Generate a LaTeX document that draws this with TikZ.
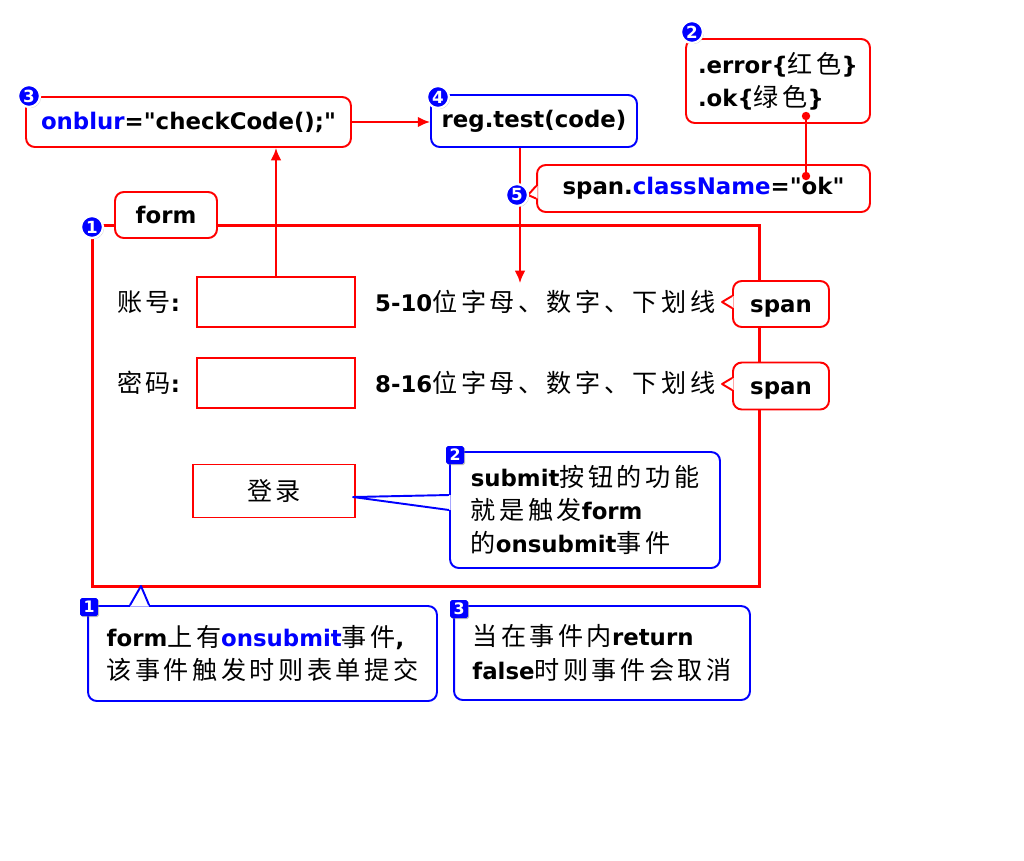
\documentclass[tikz,border=0pt]{standalone}
\usepackage{fontspec}
\setmainfont{DejaVu Sans}
\newfontfamily\cjkfont[Scale=1.1,LetterSpace=14]{Noto Sans CJK SC}
\usepackage{tikz}
\usetikzlibrary{arrows.meta}
\usetikzlibrary{positioning}
\usetikzlibrary{shadows}
\usetikzlibrary{calc}
\definecolor{boxred}{RGB}{255,0,0}
\definecolor{boxblue}{RGB}{0,0,255}
\definecolor{textblue}{RGB}{0,0,255}
\newcommand{\zh}[1]{{\cjkfont\mdseries #1}}

\begin{document}
\begin{tikzpicture}[x=0.02cm, y=-0.02cm,
    every node/.style={font=\fontsize{13}{19}\selectfont\bfseries},
    redbox/.style={draw=boxred, line width=1.1pt, rounded corners=5pt, fill=white, inner sep=4pt},
    bluebox/.style={draw=boxblue, line width=1.1pt, rounded corners=5pt, fill=white, inner sep=4pt},
    field/.style={draw=boxred, line width=1.1pt, fill=white, minimum width=3.16cm, minimum height=1cm},
    badge/.style={circle, fill=boxblue, draw=white, line width=1.3pt, text=white, inner sep=0pt,
        minimum size=0.44cm, font=\fontsize{9.5}{9.5}\selectfont\bfseries,
        drop shadow={shadow xshift=0.6pt, shadow yshift=-0.6pt, opacity=0.5}},
    sqbadge/.style={fill=boxblue, text=white, inner sep=0pt, minimum size=0.36cm, rounded corners=1pt,
        font=\fontsize{9}{9}\selectfont\bfseries,
        drop shadow={shadow xshift=0.6pt, shadow yshift=-0.6pt, opacity=0.5}},
    link/.style={boxred, line width=1.1pt, -{Latex[length=7pt,width=6pt]}}]
    \useasboundingbox (0,0) rectangle (1024,860);

    % the form and its fields
    \node[draw=boxred, line width=1.7pt, minimum width=13.36cm, minimum height=7.24cm] (formarea) at (426,406) {};
    \node[redbox, minimum width=2.04cm, minimum height=0.92cm] (formtag) at (166,215) {form};

    \node[anchor=west] (userlbl) at (111,302) {\zh{账号}:};
    \node[anchor=west] (pwdlbl) at (111,383) {\zh{密码}:};
    \node[field] (user) at (276,302) {};
    \node[field] (pwd) at (276,383) {};
    \node[field, minimum width=3.24cm, minimum height=1.06cm] (login) at (274,491) {\zh{登录}};
    \node[anchor=west] (userhint) at (369,302) {5-10\zh{位字母、数字、下划线}};
    \node[anchor=west] (pwdhint) at (369,383) {8-16\zh{位字母、数字、下划线}};

    \node[redbox, minimum width=1.92cm, minimum height=0.92cm, text height=0.42cm, text depth=0.08cm] (spanA) at (781,304) {span};
    \node[redbox, minimum width=1.92cm, minimum height=0.94cm, text height=0.42cm, text depth=0.08cm] (spanB) at (781,386) {span};
    \foreach \s in {spanA,spanB}{
    \fill[white] ($(\s.west)+(1.5,-8)$) -- ($(\s.west)+(-10,-2)$) -- ($(\s.west)+(1.5,4)$) -- cycle;
    \draw[boxred, line width=1.1pt, line join=round] ($(\s.west)+(0,-8)$) -- ($(\s.west)+(-10,-2)$) -- ($(\s.west)+(0,4)$);
    }

    % script side
    \node[redbox, minimum width=6.5cm, minimum height=1cm] (onblur) at (188.5,122) {\textcolor{textblue}{onblur}=\textquotedbl checkCode();\textquotedbl};
    \node[bluebox, minimum width=4.12cm, minimum height=1.04cm] (regtest) at (534,121) {reg.test(code)};
    \node[redbox, minimum width=3.68cm, minimum height=1.68cm, align=left] (cssrule) at (778,81) {.error\{\zh{红色}\}\\.ok\{\zh{绿色}\}};
    \node[redbox, minimum width=6.66cm, minimum height=0.94cm] (classset) at (703.5,188.5) {span.\textcolor{textblue}{className}=\textquotedbl ok\textquotedbl};
    \fill[white] ($(classset.west)+(1.5,-2.5)$) -- ($(classset.west)+(-8,6.5)$) -- ($(classset.west)+(1.5,10)$) -- cycle;
    \draw[boxred, line width=1.1pt, line join=round] ($(classset.west)+(0,-2.5)$) -- ($(classset.west)+(-8,6.5)$) -- ($(classset.west)+(0,10)$);

    \draw[link] (onblur.east) -- (regtest.west |- onblur.east);
    \draw[link] (user.north) -- (user.north |- onblur.south);
    \coordinate (hintin) at (520,283);
    \draw[link] (regtest.south -| hintin) -- (hintin);
    \coordinate (okdot) at (806,116);
    \coordinate (classdot) at (806,176);
    \draw[boxred, line width=1.1pt] (okdot) -- (classdot);
    \fill[boxred] (okdot) circle (2.4pt) (classdot) circle (2.4pt);

    % notes
    \node[bluebox, minimum width=5.4cm, minimum height=2.32cm, align=left] (submitnote) at (585,510) {submit\zh{按钮的功能}\\\zh{就是触发}form\\\zh{的}onsubmit\zh{事件}};
    \coordinate (subtip) at (353,497);
    \fill[white] ($(submitnote.west)+(1.5,-15)$) -- (subtip) -- ($(submitnote.west)+(1.5,0)$) -- cycle;
    \draw[boxblue, line width=1.1pt, line join=round] ($(submitnote.west)+(0,-15)$) -- (subtip) -- ($(submitnote.west)+(0,0)$);

    \node[bluebox, minimum width=6.98cm, minimum height=1.9cm, align=left] (formnote) at (262.5,653.5) {form\zh{上有}\textcolor{textblue}{onsubmit}\zh{事件},\\\zh{该事件触发时则表单提交}};
    \coordinate (formtip) at (141,586);
    \fill[white] ($(formnote.north west)+(43,1.5)$) -- (formtip) -- ($(formnote.north west)+(62,1.5)$) -- cycle;
    \draw[boxblue, line width=1.1pt, line join=round] ($(formnote.north west)+(43,0)$) -- (formtip) -- ($(formnote.north west)+(62,0)$);

    \node[bluebox, minimum width=5.92cm, minimum height=1.88cm, align=left] (returnnote) at (602,653) {\zh{当在事件内}return\\false\zh{时则事件会取消}};

    % step marks
    \node[badge] (mark1) at (92,227) {1};
    \node[badge] (mark2) at (692,32) {2};
    \node[badge] (mark3) at (29,96) {3};
    \node[badge] (mark4) at (438,97) {4};
    \node[badge] (mark5) at (517,195) {5};
    \node[sqbadge] (note1) at (89,607) {1};
    \node[sqbadge] (note2) at (455,455) {2};
    \node[sqbadge] (note3) at (459,609) {3};
\end{tikzpicture}
\end{document}
